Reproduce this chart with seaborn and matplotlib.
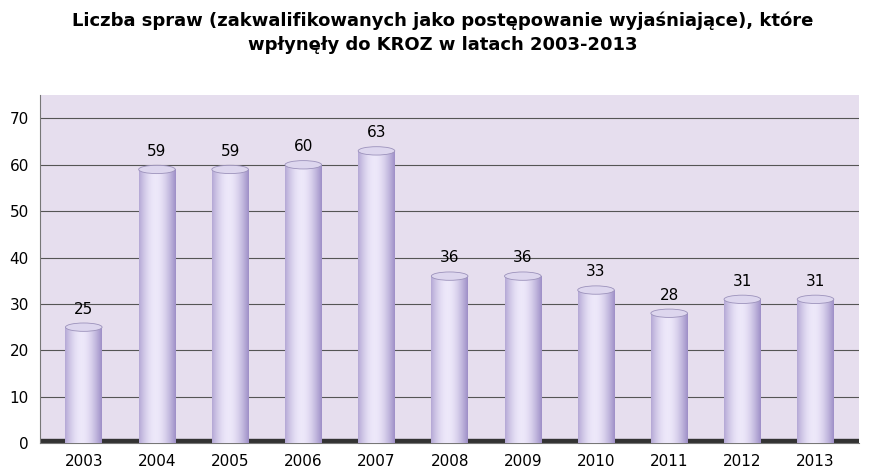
import matplotlib
matplotlib.use("Agg")
import matplotlib.pyplot as plt
import seaborn as sns
import numpy as np
import pandas as pd
from matplotlib.patches import Ellipse

years = ["2003","2004","2005","2006","2007","2008","2009","2010","2011","2012","2013"]
values = [25,59,59,60,63,36,36,33,28,31,31]
df = pd.DataFrame({"year": years, "value": values})

fig = plt.figure(figsize=(8.86,4.76), dpi=100)
ax = fig.add_axes([0.045,0.069,0.925,0.731])
ax.set_facecolor("#e6deee")
sns.barplot(data=df, x="year", y="value", color="#c9bfe2", width=0.5, ax=ax,
            edgecolor="none", zorder=3)
ax.set_ylim(0,75)
ax.set_yticks(range(0,71,10))
ax.yaxis.grid(True, color="#555555", lw=0.8, zorder=0)
ax.set_axisbelow(True)
for s in ["top","right"]:
    ax.spines[s].set_visible(False)
ax.spines["left"].set_color("#777777")
ax.spines["bottom"].set_color("#777777")
ax.set_xlabel(""); ax.set_ylabel("")
ax.tick_params(labelsize=11, length=0, pad=8)

grad = np.linspace(0,1,64)
shade = np.sin(grad*np.pi*0.9+0.3)
img = np.zeros((1,64,3))
base = np.array([0.62,0.56,0.78]); light = np.array([0.93,0.91,0.98])
for i,t in enumerate(shade):
    img[0,i] = base + (light-base)*max(t,0)
for p, v in zip(ax.patches, values):
    x0, w = p.get_x(), p.get_width()
    im = ax.imshow(img, extent=[x0, x0+w, 0, v], aspect="auto", zorder=3)
    im.set_clip_path(p)
    ax.add_patch(Ellipse((x0+w/2, v), w, 1.8, color="#ddd6ee", ec="#9c92bb", lw=0.6, zorder=4))
    ax.text(x0+w/2, v+2.3, str(v), ha="center", va="bottom", fontsize=11, zorder=5)
ax.set_xlim(-0.6, 10.6)
ax.axhspan(0, 0.8, color="#333333", zorder=2)

fig.suptitle("Liczba spraw (zakwalifikowanych jako postępowanie wyjaśniające), które\nwpłynęły do KROZ w latach 2003-2013",
             y=0.975, fontsize=13, fontweight="bold", linespacing=1.4)
fig.savefig("out.png", dpi=100)
